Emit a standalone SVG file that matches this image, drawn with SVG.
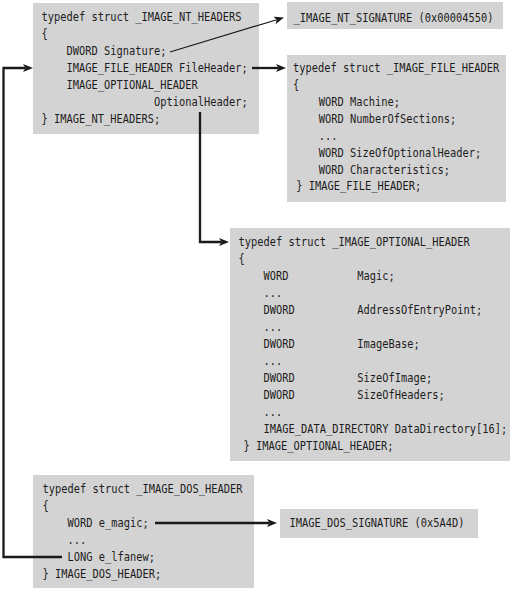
<svg xmlns="http://www.w3.org/2000/svg" width="511" height="590" viewBox="0 0 511 590">
<style>
.box{fill:#d3d3d3;stroke:none}
text{font-family:"DejaVu Sans Mono","Liberation Mono",monospace;font-size:12.5px;fill:#1c1c1c}
.ln{fill:none;stroke:#1a1a1a;stroke-width:2.3;marker-end:url(#ah)}
.thin{fill:none;stroke:#1a1a1a;stroke-width:1.2;marker-end:url(#ah)}
</style>
<defs>
<marker id="ah" markerUnits="userSpaceOnUse" markerWidth="10" markerHeight="8" refX="2.5" refY="4" orient="auto" viewBox="0 0 10 8">
<path d="M0,0 L10,4 L0,8 L2.5,4 z" fill="#1a1a1a"/>
</marker>
</defs>
<rect width="511" height="590" fill="#ffffff"/>

<g id="nt_headers">
<rect class="box" x="33" y="3" width="226" height="131"/>
<g transform="translate(41.5,0) scale(0.8306,1)">
<text x="0" y="21.5">typedef struct _IMAGE_NT_HEADERS</text>
<text x="0" y="38.5">{</text>
<text x="30.1" y="55.5">DWORD Signature;</text>
<text x="30.1" y="72.5">IMAGE_FILE_HEADER FileHeader;</text>
<text x="30.1" y="89.5">IMAGE_OPTIONAL_HEADER</text>
<text x="135.5" y="106.5">OptionalHeader;</text>
<text x="0" y="123.5">} IMAGE_NT_HEADERS;</text>
</g>
</g>

<g id="nt_signature">
<rect class="box" x="287" y="2" width="216" height="27"/>
<g transform="translate(293.5,0) scale(0.8306,1)">
<text x="0" y="22">_IMAGE_NT_SIGNATURE (0x00004550)</text>
</g>
</g>

<g id="file_header">
<rect class="box" x="287" y="55" width="219" height="147"/>
<g transform="translate(293,0) scale(0.8306,1)">
<text x="0" y="72">typedef struct _IMAGE_FILE_HEADER</text>
<text x="0" y="89">{</text>
<text x="31" y="106">WORD Machine;</text>
<text x="31" y="123">WORD NumberOfSections;</text>
<text x="31" y="140">...</text>
<text x="31" y="157">WORD SizeOfOptionalHeader;</text>
<text x="31" y="174">WORD Characteristics;</text>
<text x="4" y="190.5">} IMAGE_FILE_HEADER;</text>
</g>
</g>

<g id="optional_header">
<rect class="box" x="230" y="228" width="280" height="233"/>
<g transform="translate(238.5,0) scale(0.8306,1)">
<text x="0" y="246.5">typedef struct _IMAGE_OPTIONAL_HEADER</text>
<text x="0" y="263.5">{</text>
<text x="30.1" y="280.5">WORD</text><text x="143" y="280.5">Magic;</text>
<text x="30.1" y="297.5">...</text>
<text x="30.1" y="314.5">DWORD</text><text x="143" y="314.5">AddressOfEntryPoint;</text>
<text x="30.1" y="331.5">...</text>
<text x="30.1" y="348.5">DWORD</text><text x="143" y="348.5">ImageBase;</text>
<text x="30.1" y="365.5">...</text>
<text x="30.1" y="382.5">DWORD</text><text x="143" y="382.5">SizeOfImage;</text>
<text x="30.1" y="399.5">DWORD</text><text x="143" y="399.5">SizeOfHeaders;</text>
<text x="30.1" y="416.5">...</text>
<text x="30.1" y="433.5">IMAGE_DATA_DIRECTORY DataDirectory[16];</text>
<text x="6" y="450.5">} IMAGE_OPTIONAL_HEADER;</text>
</g>
</g>

<g id="dos_header">
<rect class="box" x="33" y="475" width="221" height="113"/>
<g transform="translate(42.5,0) scale(0.8306,1)">
<text x="0" y="493">typedef struct _IMAGE_DOS_HEADER</text>
<text x="0" y="510">{</text>
<text x="30.1" y="527">WORD e_magic;</text>
<text x="30.1" y="544">...</text>
<text x="30.1" y="561">LONG e_lfanew;</text>
<text x="0" y="578">} IMAGE_DOS_HEADER;</text>
</g>
</g>

<g id="dos_signature">
<rect class="box" x="280" y="509" width="198" height="29"/>
<g transform="translate(289.5,0) scale(0.8306,1)">
<text x="0" y="527.5">IMAGE_DOS_SIGNATURE (0x5A4D)</text>
</g>
</g>

<g id="connectors">
<path class="thin" d="M170,52 L276.8,19.7"/>
<path class="ln" d="M252,68 H278.5"/>
<path class="ln" d="M200,112 V242 H221.5"/>
<path class="ln" d="M62,557 H3.5 V68 H25.5"/>
<path class="ln" d="M155,523 H269.5"/>
</g>
</svg>
